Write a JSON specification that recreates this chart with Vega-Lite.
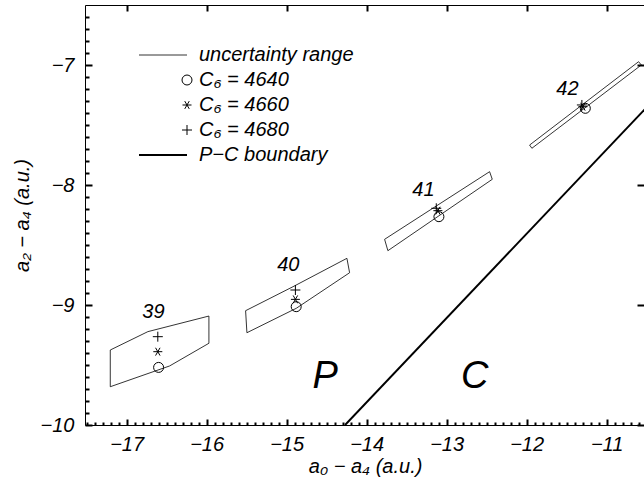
{
  "$schema": "https://vega.github.io/schema/vega-lite/v6.json",
  "width": 559,
  "height": 420,
  "autosize": {"type": "none"},
  "padding": {"left": 85, "top": 5, "right": 0, "bottom": 60},
  "background": "white",
  "config": {
    "view": {"stroke": null},
    "axis": {
      "grid": false,
      "labelFont": "Liberation Sans",
      "labelFontSize": 20,
      "labelFontStyle": "italic",
      "labelColor": "black",
      "titleFont": "Liberation Sans",
      "titleFontSize": 20,
      "titleFontStyle": "italic",
      "titleFontWeight": "normal",
      "titleColor": "black",
      "domainColor": "black",
      "domainWidth": 1
    }
  },
  "datasets": {
    "polys": [
      {"poly": "39", "i": 0, "x": -17.204, "y": -9.375},
      {"poly": "39", "i": 1, "x": -16.734, "y": -9.222},
      {"poly": "39", "i": 2, "x": -15.971, "y": -9.092},
      {"poly": "39", "i": 3, "x": -15.971, "y": -9.319},
      {"poly": "39", "i": 4, "x": -16.4625, "y": -9.508},
      {"poly": "39", "i": 5, "x": -17.204, "y": -9.681},
      {"poly": "39", "i": 6, "x": -17.204, "y": -9.375},
      {"poly": "40", "i": 0, "x": -15.5125, "y": -9.0475},
      {"poly": "40", "i": 1, "x": -14.92, "y": -8.8475},
      {"poly": "40", "i": 2, "x": -14.246, "y": -8.611},
      {"poly": "40", "i": 3, "x": -14.2125, "y": -8.731},
      {"poly": "40", "i": 4, "x": -14.879, "y": -9.0275},
      {"poly": "40", "i": 5, "x": -15.496, "y": -9.231},
      {"poly": "40", "i": 6, "x": -15.5125, "y": -9.0475},
      {"poly": "41", "i": 0, "x": -13.775, "y": -8.4525},
      {"poly": "41", "i": 1, "x": -12.4625, "y": -7.889},
      {"poly": "41", "i": 2, "x": -12.429, "y": -7.9525},
      {"poly": "41", "i": 3, "x": -13.734, "y": -8.5475},
      {"poly": "41", "i": 4, "x": -13.775, "y": -8.4525},
      {"poly": "42", "i": 0, "x": -11.9625, "y": -7.667},
      {"poly": "42", "i": 1, "x": -10.6, "y": -6.9725},
      {"poly": "42", "i": 2, "x": -10.566, "y": -7.0},
      {"poly": "42", "i": 3, "x": -11.934, "y": -7.694},
      {"poly": "42", "i": 4, "x": -11.9625, "y": -7.667}
    ],
    "markers": [
      {"series": "C₆ = 4640", "x": -16.6, "y": -9.52},
      {"series": "C₆ = 4660", "x": -16.61, "y": -9.389},
      {"series": "C₆ = 4680", "x": -16.61, "y": -9.264},
      {"series": "C₆ = 4640", "x": -14.88, "y": -9.014},
      {"series": "C₆ = 4660", "x": -14.89, "y": -8.953},
      {"series": "C₆ = 4680", "x": -14.89, "y": -8.875},
      {"series": "C₆ = 4640", "x": -13.096, "y": -8.264},
      {"series": "C₆ = 4660", "x": -13.109, "y": -8.214},
      {"series": "C₆ = 4680", "x": -13.129, "y": -8.194},
      {"series": "C₆ = 4640", "x": -11.266, "y": -7.361},
      {"series": "C₆ = 4660", "x": -11.296, "y": -7.3475},
      {"series": "C₆ = 4680", "x": -11.309, "y": -7.333}
    ],
    "labels": [
      {"label": "39", "x": -16.665, "y": -9.06},
      {"label": "40", "x": -14.979, "y": -8.667},
      {"label": "41", "x": -13.29, "y": -8.043},
      {"label": "42", "x": -11.49, "y": -7.2}
    ],
    "boundary": [
      {"x": -14.269, "y": -10.0},
      {"x": -10.5, "y": -7.353}
    ],
    "regions": [
      {"label": "P", "x": -14.519, "y": -9.6},
      {"label": "C", "x": -12.65, "y": -9.6}
    ]
  },
  "resolve": {"axis": {"x": "independent", "y": "independent"}},
  "layer": [
    {
      "data": {"name": "polys"},
      "transform": [{"filter": "datum.poly == '39' || datum.poly == '40'"}],
      "mark": {"type": "line", "color": "black", "strokeWidth": 0.8, "clip": true},
      "encoding": {
        "x": {
          "field": "x", "type": "quantitative",
          "scale": {"domain": [-17.52, -10.5325], "nice": false, "zero": false},
          "axis": {
            "orient": "bottom",
            "values": [-17, -16, -15, -14, -13, -12, -11],
            "ticks": false,
            "labelPadding": 9,
            "domain": true,
            "title": "a₀ − a₄  (a.u.)",
            "titleX": 280,
            "titleY": 41,
            "titleAlign": "center",
            "titleBaseline": "middle"
          }
        },
        "y": {
          "field": "y", "type": "quantitative",
          "scale": {"domain": [-10, -6.5], "nice": false, "zero": false},
          "axis": {
            "orient": "left",
            "values": [-10, -9, -8, -7],
            "ticks": false,
            "labelPadding": 11,
            "domain": true,
            "title": "a₂ − a₄  (a.u.)",
            "titleX": -63,
            "titleY": 210,
            "titleAngle": -90,
            "titleAlign": "center",
            "titleBaseline": "middle"
          }
        },
        "detail": {"field": "poly", "type": "nominal"},
        "order": {"field": "i", "type": "quantitative"}
      }
    },
    {
      "data": {"name": "polys"},
      "transform": [{"filter": "datum.poly == '41' || datum.poly == '42'"}],
      "mark": {"type": "line", "color": "black", "strokeWidth": 0.8, "clip": true},
      "encoding": {
        "x": {
          "field": "x", "type": "quantitative",
          "scale": {"domain": [-17.52, -10.5325], "nice": false, "zero": false},
          "axis": {
            "orient": "bottom",
            "values": [-17, -16, -15, -14, -13, -12, -11],
            "tickSize": 6,
            "offset": -6,
            "tickColor": "black",
            "tickWidth": 2,
            "labels": false,
            "domain": false,
            "title": null
          }
        },
        "y": {
          "field": "y", "type": "quantitative",
          "scale": {"domain": [-10, -6.5], "nice": false, "zero": false},
          "axis": {
            "orient": "left",
            "values": [-10, -9, -8, -7],
            "tickSize": 7,
            "offset": -7,
            "tickColor": "black",
            "tickWidth": 2,
            "labels": false,
            "domain": false,
            "title": null
          }
        },
        "detail": {"field": "poly", "type": "nominal"},
        "order": {"field": "i", "type": "quantitative"}
      }
    },
    {
      "data": {"name": "markers"},
      "mark": {"type": "point", "filled": false, "color": "black", "size": 100, "opacity": 1},
      "encoding": {
        "x": {
          "field": "x", "type": "quantitative",
          "scale": {"domain": [-17.52, -10.5325], "nice": false, "zero": false},
          "axis": {
            "orient": "bottom",
            "values": [-17.5,-17.4,-17.3,-17.2,-17.1,-16.9,-16.8,-16.7,-16.6,-16.5,-16.4,-16.3,-16.2,-16.1,-15.9,-15.8,-15.7,-15.6,-15.5,-15.4,-15.3,-15.2,-15.1,-14.9,-14.8,-14.7,-14.6,-14.5,-14.4,-14.3,-14.2,-14.1,-13.9,-13.8,-13.7,-13.6,-13.5,-13.4,-13.3,-13.2,-13.1,-12.9,-12.8,-12.7,-12.6,-12.5,-12.4,-12.3,-12.2,-12.1,-11.9,-11.8,-11.7,-11.6,-11.5,-11.4,-11.3,-11.2,-11.1,-10.9,-10.8,-10.7,-10.6],
            "tickSize": 3,
            "offset": -3,
            "tickColor": "black",
            "tickWidth": 2,
            "labels": false,
            "domain": false,
            "title": null
          }
        },
        "y": {
          "field": "y", "type": "quantitative",
          "scale": {"domain": [-10, -6.5], "nice": false, "zero": false},
          "axis": {
            "orient": "left",
            "values": [-9.9,-9.8,-9.7,-9.6,-9.5,-9.4,-9.3,-9.2,-9.1,-8.9,-8.8,-8.7,-8.6,-8.5,-8.4,-8.3,-8.2,-8.1,-7.9,-7.8,-7.7,-7.6,-7.5,-7.4,-7.3,-7.2,-7.1,-6.9,-6.8,-6.7,-6.6],
            "tickSize": 4,
            "offset": -4,
            "tickColor": "black",
            "tickWidth": 2,
            "labels": false,
            "domain": false,
            "title": null
          }
        },
        "shape": {
          "field": "series", "type": "nominal",
          "scale": {
            "domain": ["uncertainty range", "C₆ = 4640", "C₆ = 4660", "C₆ = 4680", "P−C boundary"],
            "range": [
              "M-9.6,0L0,0",
              "M1,0A1,1,0,1,1,-1,0A1,1,0,1,1,1,0Z",
              "M-0.9,0L0.9,0M-0.45,-0.78L0.45,0.78M-0.45,0.78L0.45,-0.78",
              "M-1,0L1,0M0,-1L0,1",
              "M-9.6,0L0,0"
            ]
          },
          "legend": {
            "orient": "none",
            "legendX": 92,
            "legendY": 40,
            "title": null,
            "padding": 0,
            "labelFont": "Liberation Sans",
            "labelFontSize": 20,
            "labelFontStyle": "italic",
            "labelColor": "black",
            "symbolSize": 100,
            "rowPadding": 5,
            "labelOffset": 2,
            "symbolStrokeColor": "black"
          }
        },
        "strokeWidth": {
          "field": "series", "type": "nominal",
          "scale": {
            "type": "ordinal",
            "domain": ["uncertainty range", "C₆ = 4640", "C₆ = 4660", "C₆ = 4680", "P−C boundary"],
            "range": [0.8, 1, 1, 1, 2.2]
          }
        }
      }
    },
    {
      "data": {"name": "boundary"},
      "mark": {"type": "line", "color": "black", "strokeWidth": 2, "clip": true},
      "encoding": {
        "x": {
          "field": "x", "type": "quantitative",
          "scale": {"domain": [-17.52, -10.5325], "nice": false, "zero": false},
          "axis": {
            "orient": "top",
            "values": [-17, -16, -15, -14, -13, -12, -11],
            "tickSize": 6,
            "offset": -6,
            "tickColor": "black",
            "tickWidth": 2,
            "labels": false,
            "domain": false,
            "title": null
          }
        },
        "y": {
          "field": "y", "type": "quantitative",
          "scale": {"domain": [-10, -6.5], "nice": false, "zero": false},
          "axis": {
            "orient": "right",
            "values": [-10, -9, -8, -7],
            "tickSize": 7,
            "offset": -7,
            "tickColor": "black",
            "tickWidth": 2,
            "labels": false,
            "domain": false,
            "title": null
          }
        }
      }
    },
    {
      "data": {"name": "labels"},
      "mark": {"type": "text", "font": "Liberation Sans", "fontSize": 20, "fontStyle": "italic", "align": "center", "baseline": "middle", "color": "black"},
      "encoding": {
        "x": {
          "field": "x", "type": "quantitative",
          "scale": {"domain": [-17.52, -10.5325], "nice": false, "zero": false},
          "axis": null
        },
        "y": {
          "field": "y", "type": "quantitative",
          "scale": {"domain": [-10, -6.5], "nice": false, "zero": false},
          "axis": null
        },
        "text": {"field": "label", "type": "nominal"}
      }
    },
    {
      "data": {"name": "regions"},
      "mark": {"type": "text", "font": "Liberation Sans", "fontSize": 38, "fontStyle": "italic", "align": "center", "baseline": "middle", "color": "black"},
      "encoding": {
        "x": {
          "field": "x", "type": "quantitative",
          "scale": {"domain": [-17.52, -10.5325], "nice": false, "zero": false},
          "axis": {
            "orient": "top",
            "values": [-17, -16, -15, -14, -13, -12, -11],
            "ticks": false,
            "labels": false,
            "domain": true,
            "title": null
          }
        },
        "y": {
          "field": "y", "type": "quantitative",
          "scale": {"domain": [-10, -6.5], "nice": false, "zero": false},
          "axis": null
        },
        "text": {"field": "label", "type": "nominal"}
      }
    }
  ]
}
